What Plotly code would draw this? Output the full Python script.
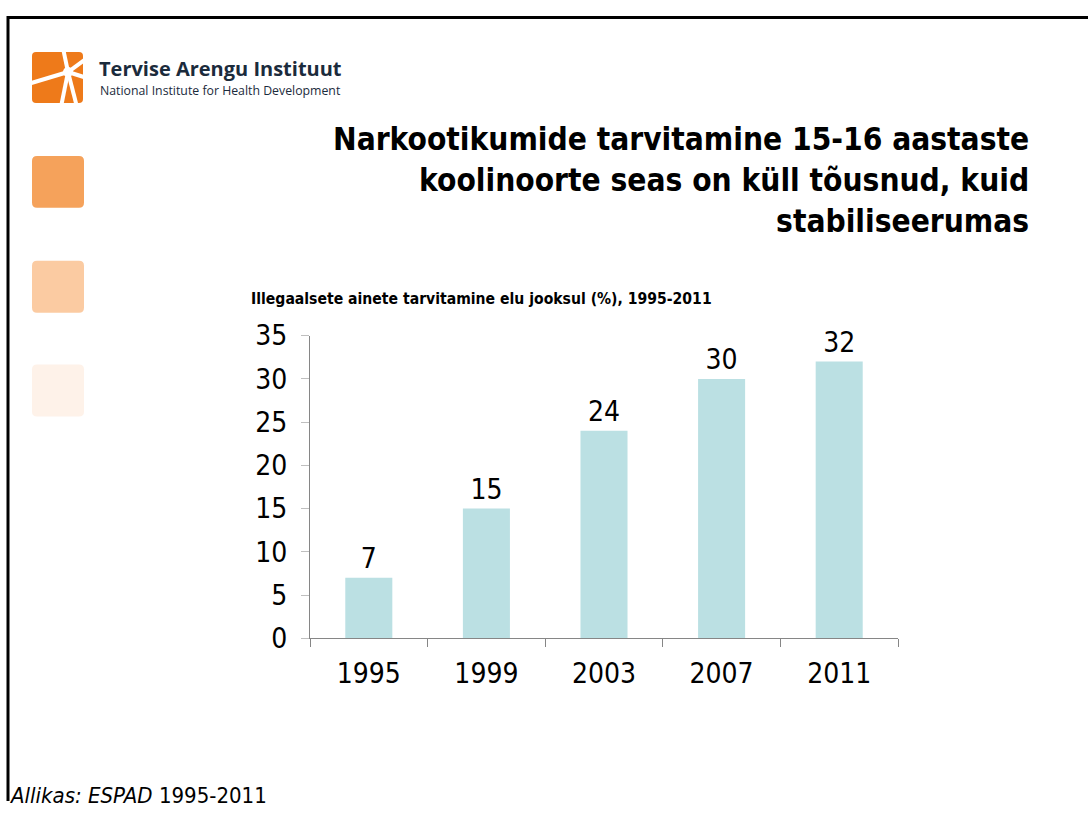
import plotly.graph_objects as go

years = ["1995", "1999", "2003", "2007", "2011"]
values = [7, 15, 24, 30, 32]
y_ticks = [0, 5, 10, 15, 20, 25, 30, 35]

W, H = 1088, 818
NARROW = "Liberation Sans Narrow, DejaVu Sans Condensed, sans-serif"
BOLD = "DejaVu Sans Condensed, sans-serif"

# the page is photographed slightly compressed vertically; place items so they land on target pixels
S, OFF = 0.961, 14.9


def Y(yref):
    return (yref - OFF) / S


def px(x):
    return x / W


def py(yref):
    return 1 - Y(yref) / H


fig = go.Figure()
fig.add_trace(go.Bar(
    x=years, y=values,
    marker=dict(color="#BBE0E3", line=dict(width=0)),
    text=[str(v) for v in values], textposition="outside",
    textfont=dict(family=NARROW, size=28, color="#000000"),
    cliponaxis=False, width=0.4,
))

fig.update_layout(
    width=W, height=H,
    margin=dict(l=0, r=0, t=0, b=0),
    paper_bgcolor="white", plot_bgcolor="white",
    showlegend=False,
    bargap=0.6,
    xaxis=dict(
        domain=[px(310), px(898)],
        showline=True, linecolor="#868686", linewidth=1,
        ticks="outside", ticklen=8, tickcolor="#868686",
        tickson="boundaries", showgrid=False,
        tickfont=dict(family=NARROW, size=28, color="#000000"),
        ticklabelstandoff=10,
        anchor="y",
    ),
    yaxis=dict(
        domain=[py(638), py(335)], range=[0, 35],
        tickvals=y_ticks,
        showline=True, linecolor="#868686", linewidth=1,
        ticks="outside", ticklen=8, tickcolor="#BFBFBF",
        showgrid=False, zeroline=False,
        tickfont=dict(family=NARROW, size=28, color="#000000"),
        ticklabelstandoff=8,
    ),
)

shapes = []
# slide frame (top and left edges)
shapes.append(dict(type="line", xref="paper", yref="paper", x0=px(7), x1=1, y0=1 - 1.5 / H, y1=1 - 1.5 / H,
                   line=dict(color="#000000", width=3)))
shapes.append(dict(type="line", xref="paper", yref="paper", x0=px(8), x1=px(8), y0=1, y1=0,
                   line=dict(color="#000000", width=3)))


def rr_paper(x0, y0, x1, y1, r, color):
    p = (f"M {px(x0+r)},{py(y0)} L {px(x1-r)},{py(y0)} Q {px(x1)},{py(y0)} {px(x1)},{py(y0+r)} "
         f"L {px(x1)},{py(y1-r)} Q {px(x1)},{py(y1)} {px(x1-r)},{py(y1)} "
         f"L {px(x0+r)},{py(y1)} Q {px(x0)},{py(y1)} {px(x0)},{py(y1-r)} L {px(x0)},{py(y0+r)} "
         f"Q {px(x0)},{py(y0)} {px(x0+r)},{py(y0)} Z")
    return dict(type="path", xref="paper", yref="paper", path=p, fillcolor=color, line=dict(width=0))


shapes.append(rr_paper(32, 155, 84, 207, 5, "#F5A25B"))
shapes.append(rr_paper(32, 260, 84, 312, 5, "#FBCBA2"))
shapes.append(rr_paper(32, 364, 84, 416, 5, "#FEF2E9"))

# logo
shapes.append(rr_paper(32, 51, 83, 102, 4, "#EE7A1A"))
cx, cy = 68, 71
rays = [(63, 47), (87, 57), (87, 77), (77, 106), (61, 106), (28, 83)]
for (ex, ey) in rays:
    shapes.append(dict(type="line", xref="paper", yref="paper", x0=px(cx), y0=py(cy), x1=px(ex), y1=py(ey),
                       line=dict(color="white", width=4)))
shapes.append(dict(type="circle", xref="paper", yref="paper", x0=px(cx-5), x1=px(cx+5), y0=py(cy-5), y1=py(cy+5),
                   fillcolor="white", line=dict(width=0)))

annotations = []
annotations.append(dict(xref="paper", yref="paper", x=px(97), y=py(67), xanchor="left", yanchor="middle",
                        text="<b>Tervise Arengu Instituut</b>", showarrow=False,
                        font=dict(family="Open Sans, DejaVu Sans", size=20, color="#1B2B3C")))
annotations.append(dict(xref="paper", yref="paper", x=px(98), y=py(90), xanchor="left", yanchor="middle",
                        text="National Institute for Health Development", showarrow=False,
                        font=dict(family="Open Sans, DejaVu Sans", size=12.3, color="#1B2B3C")))
annotations.append(dict(xref="paper", yref="paper", x=px(1031), y=py(179), xanchor="right", yanchor="middle",
                        align="right",
                        text="<b>Narkootikumide tarvitamine 15-16 aastaste<br>koolinoorte seas on küll tõusnud, kuid<br>stabiliseerumas</b>",
                        showarrow=False,
                        font=dict(family=BOLD, size=31.4, color="#000000")))
annotations.append(dict(xref="paper", yref="paper", x=px(249), y=py(298), xanchor="left", yanchor="middle",
                        text="<b>Illegaalsete ainete tarvitamine elu jooksul (%), 1995-2011</b>", showarrow=False,
                        font=dict(family=BOLD, size=15.6, color="#000000")))
annotations.append(dict(xref="paper", yref="paper", x=px(7), y=1 - 812 / H, xanchor="left", yanchor="middle",
                        text="<i>Allikas: ESPAD</i> 1995-2011", showarrow=False,
                        font=dict(family=NARROW, size=22, color="#000000")))

fig.update_layout(shapes=shapes, annotations=annotations)
fig.write_html("out.html", post_script="document.body.style.margin='0';document.documentElement.style.overflow='hidden';")
